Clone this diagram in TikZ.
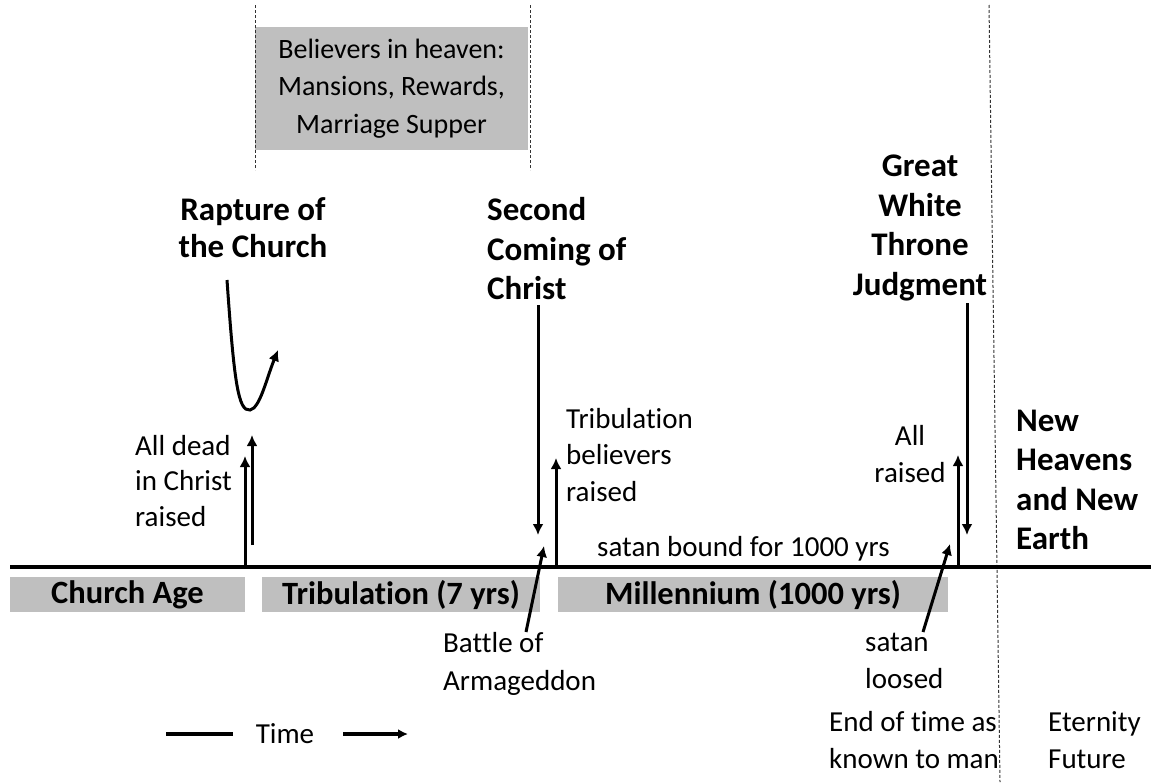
\documentclass[tikz,border=0pt]{standalone}
\usepackage{fontspec}
\setmainfont{Carlito}[Ligatures=NoCommon]
\usetikzlibrary{arrows.meta}
\begin{document}
\begin{tikzpicture}[x=1pt,y=-1pt,
  txt/.style={font=\fontsize{29}{36.5}\selectfont, inner sep=0pt, align=left},
  btxt/.style={font=\fontsize{33}{39.5}\selectfont\bfseries, inner sep=0pt, align=left},
  bar/.style={fill=black!25, inner sep=0pt, minimum height=35pt, font=\fontsize{32.5}{36}\selectfont\bfseries},
  arr/.style={line width=3pt, -{Latex[length=11pt,width=11pt]}},
  divider/.style={draw=black!80, line width=1pt, dash pattern=on 3pt off 2pt}]
\useasboundingbox (0,0) rectangle (1151,782);
% coordinates
\coordinate (d1t) at (255,5);   \coordinate (d1b) at (255,170);
\coordinate (d2t) at (530,5);   \coordinate (d2b) at (530,170);
\coordinate (d3t) at (989,5);   \coordinate (d3b) at (1000,782);
\coordinate (tl0) at (10,567);  \coordinate (tl1) at (1151,567);
% heaven box
\node[fill=black!25, minimum width=273pt, minimum height=123pt, inner sep=0pt, align=center, font=\fontsize{28}{37.5}\selectfont] (heaven) at (391.5,88.5) {Believers in heaven:\\Mansions, Rewards,\\Marriage Supper};
\draw[divider] (d1t) -- (d1b);
\draw[divider] (d2t) -- (d2b);
\draw[divider] (d3t) -- (d3b);
% timeline
\draw[line width=4pt] (tl0) -- (tl1);
% bars
\node[bar, minimum width=235pt] (church) at (127.5,594.5) {Church Age};
\node[bar, minimum width=278pt] (trib) at (401,594.5) {Tribulation (7 yrs)};
\node[bar, minimum width=390pt] (mill) at (753,594.5) {Millennium (1000 yrs)};
% titles
\node[btxt, align=center, font=\fontsize{33}{37}\selectfont\bfseries] (rapture) at (253,228) {Rapture of\\the Church};
\node[btxt, anchor=west] (second) at (487,249) {Second\\Coming of\\Christ};
\node[btxt, align=center] (gwt) at (920,228) {Great\\White\\Throne\\Judgment};
\node[btxt, anchor=west] (newh) at (1016,480) {New\\Heavens\\and New\\Earth};
% labels
\node[txt, anchor=west, font=\fontsize{29}{35.5}\selectfont] (alldead) at (135,481) {All dead\\in Christ\\raised};
\node[txt, anchor=west] (tribb) at (566,455) {Tribulation\\believers\\raised};
\node[txt, align=center] (allr) at (910,454) {All\\raised};
\node[txt, anchor=west] (satanb) at (597,549) {satan bound for 1000 yrs};
\node[txt, anchor=west, font=\fontsize{29}{38}\selectfont] (battle) at (443,664) {Battle of\\Armageddon};
\node[txt, anchor=west] (satanl) at (865,661) {satan\\loosed};
\node[txt, anchor=west] (endt) at (829,740) {End of time as\\known to man};
\node[txt, anchor=west] (etern) at (1048,740) {Eternity\\Future};
\node[txt] (time) at (285,734) {Time};
% rapture arrows
\coordinate (r1a) at (245,567); \coordinate (r1b) at (245,456);
\coordinate (r2a) at (252,545); \coordinate (r2b) at (252,435);
\draw[arr] (r1a) -- (r1b);
\draw[arr] (r2a) -- (r2b);
\coordinate (c0) at (227,280); \coordinate (c1) at (250,410); \coordinate (c2) at (278,350);
\draw[arr] (c0) .. controls (234,380) and (238,412) .. (c1) .. controls (260,408) and (266,380) .. (c2);
% second coming arrows
\coordinate (s1a) at (538,305); \coordinate (s1b) at (538,535);
\coordinate (s2a) at (556,567); \coordinate (s2b) at (556,458);
\draw[arr] (s1a) -- (s1b);
\draw[arr] (s2a) -- (s2b);
\coordinate (b0) at (526,632); \coordinate (b1) at (544,546);
\draw[arr] (b0) -- (b1);
% GWT arrows
\coordinate (g1a) at (967,303); \coordinate (g1b) at (967,535);
\coordinate (g2a) at (958,567); \coordinate (g2b) at (958,455);
\draw[arr] (g1a) -- (g1b);
\draw[arr] (g2a) -- (g2b);
\coordinate (l0) at (923,632); \coordinate (l1) at (950,544);
\draw[arr] (l0) -- (l1);
% time arrow
\coordinate (t0) at (166,734); \coordinate (t1) at (233,734);
\coordinate (t2) at (343,734); \coordinate (t3) at (408,734);
\draw[line width=3.5pt] (t0) -- (t1);
\draw[line width=3.5pt, -{Latex[length=10pt,width=10pt]}] (t2) -- (t3);
\end{tikzpicture}
\end{document}
